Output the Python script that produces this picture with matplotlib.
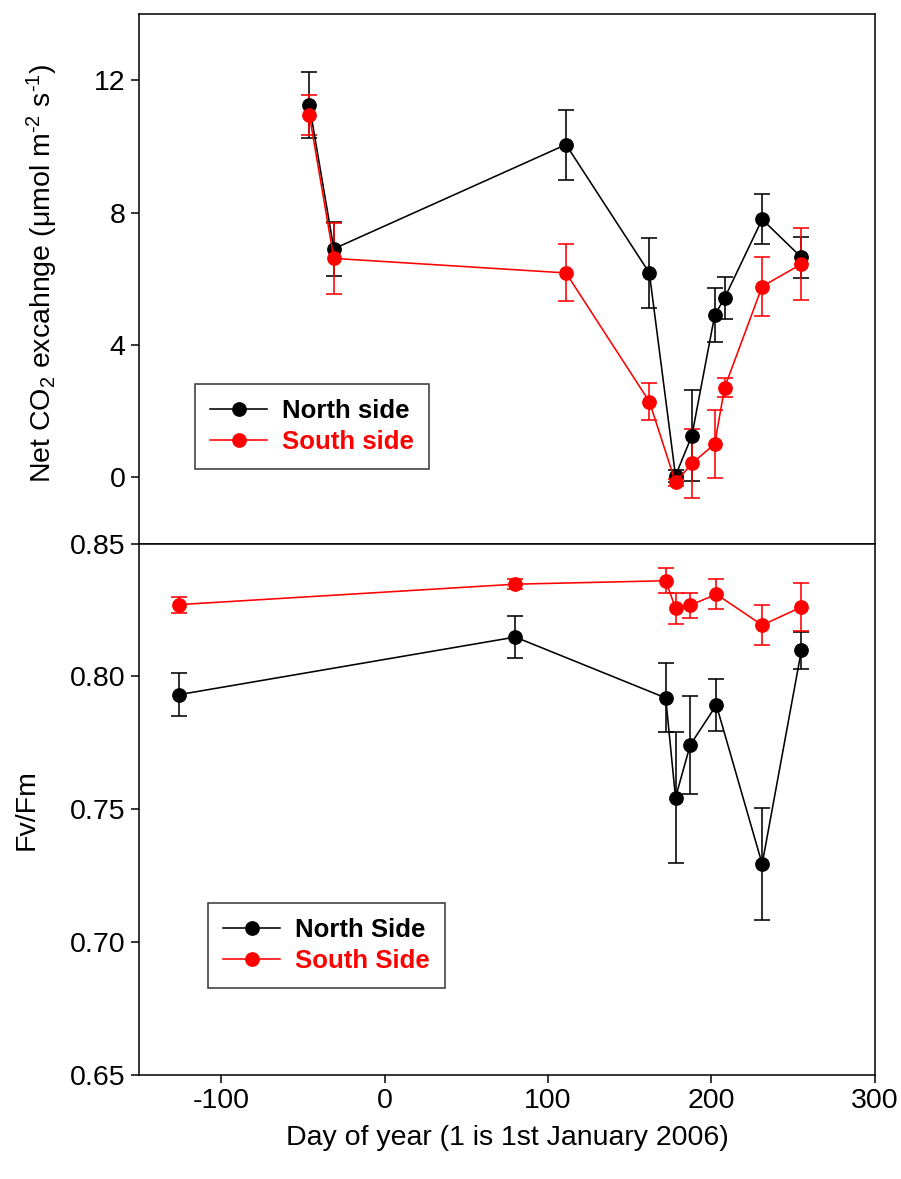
import matplotlib
matplotlib.use("Agg")
import matplotlib.pyplot as plt
from matplotlib.lines import Line2D

plt.rcParams['font.family'] = ['Liberation Sans', 'DejaVu Sans']
plt.rcParams['mathtext.fontset'] = 'custom'
plt.rcParams['mathtext.rm'] = 'Liberation Sans'
plt.rcParams['mathtext.it'] = 'Liberation Sans:italic'
plt.rcParams['mathtext.bf'] = 'Liberation Sans:bold'

# Net CO2 exchange (top panel)
days_net = [-46, -31, 111, 162, 178, 188, 202, 208, 231, 255]
north_net = [11.26, 6.91, 10.06, 6.18, 0.05, 1.26, 4.91, 5.42, 7.80, 6.65]
north_net_err = [1.00, 0.82, 1.06, 1.05, 0.18, 1.38, 0.82, 0.63, 0.76, 0.63]
south_net = [10.96, 6.62, 6.18, 2.29, -0.15, 0.42, 1.01, 2.71, 5.77, 6.45]
south_net_err = [0.60, 1.07, 0.86, 0.55, 0.10, 1.05, 1.02, 0.28, 0.90, 1.10]

# Fv/Fm (bottom panel)
days_fv = [-126, 80, 172, 178, 187, 203, 231, 255]
north_fv = [0.7931, 0.8148, 0.7919, 0.7544, 0.7742, 0.7892, 0.7294, 0.8098]
north_fv_err = [0.0080, 0.0078, 0.0130, 0.0245, 0.0184, 0.0099, 0.0210, 0.0070]
south_fv = [0.8270, 0.8347, 0.8360, 0.8257, 0.8268, 0.8309, 0.8193, 0.8261]
south_fv_err = [0.0030, 0.0020, 0.0047, 0.0058, 0.0047, 0.0057, 0.0076, 0.0092]

x_ticks = [-100, 0, 100, 200, 300]
net_ticks = [0, 4, 8, 12]
fv_ticks = [0.65, 0.70, 0.75, 0.80, 0.85]

FS = 20.5
LEG_FS = 18.5
BLACK = '#000000'
RED = '#ff0000'

fig = plt.figure(figsize=(9.01, 11.79), dpi=100)
left, width = 0.1546, 0.8165
ax_top = fig.add_axes([left, 0.5390, width, 0.4489])
ax_bot = fig.add_axes([left, 0.0882, width, 0.4508])

style = dict(marker='o', markersize=9.6, linewidth=1.15, capsize=5.5,
             elinewidth=1.15, capthick=1.15)

ax_top.errorbar(days_net, north_net, yerr=north_net_err, color=BLACK, **style)
ax_top.errorbar(days_net, south_net, yerr=south_net_err, color=RED, **style)
ax_bot.errorbar(days_fv, north_fv, yerr=north_fv_err, color=BLACK, **style)
ax_bot.errorbar(days_fv, south_fv, yerr=south_fv_err, color=RED, **style)

for ax in (ax_top, ax_bot):
    ax.set_xlim(-150, 300)
    for sp in ax.spines.values():
        sp.set_linewidth(1.1)
    ax.tick_params(axis='both', direction='out', length=6, width=1.1,
                   labelsize=FS)
    ax.tick_params(axis='y', pad=4)
    ax.tick_params(axis='x', pad=3)

ax_top.set_ylim(-2, 14)
ax_top.set_yticks(net_ticks)
ax_top.set_yticklabels([str(t) for t in net_ticks])
ax_top.set_xticks([])

ax_bot.set_ylim(0.65, 0.85)
ax_bot.set_yticks(fv_ticks)
ax_bot.set_yticklabels([f"{t:.2f}" for t in fv_ticks])
ax_bot.set_xticks(x_ticks)
ax_bot.set_xticklabels([str(t) for t in x_ticks])

ax_top.set_ylabel(r"Net CO$_2$ excahnge ($\mathregular{\mu}$mol m$^{\text{-2}}$ s$^{\text{-1}}$)",
                  fontsize=FS)
ax_top.yaxis.set_label_coords(-0.108, 0.51)
ax_bot.set_ylabel("Fv/Fm", fontsize=FS)
ax_bot.yaxis.set_label_coords(-0.135, 0.5)
ax_bot.set_xlabel("Day of year (1 is 1st January 2006)", fontsize=FS)
ax_bot.xaxis.set_label_coords(0.5, -0.094)


def add_legend(ax, labels, anchor):
    handles = [Line2D([], [], color=BLACK, marker='o', markersize=9.6, linewidth=1.15),
               Line2D([], [], color=RED, marker='o', markersize=9.6, linewidth=1.15)]
    leg = ax.legend(handles, labels, loc='upper left', bbox_to_anchor=anchor,
                    frameon=True, fancybox=False, edgecolor=BLACK,
                    prop={'weight': 'bold', 'size': LEG_FS}, handlelength=2.2,
                    handletextpad=0.58, labelspacing=0.25, borderpad=0.6,
                    borderaxespad=0.0)
    leg.get_frame().set_linewidth(1.1)
    for txt, col in zip(leg.get_texts(), [BLACK, RED]):
        txt.set_color(col)
    return leg


add_legend(ax_top, ["North side", "South side"], (0.0757, 0.3014))
add_legend(ax_bot, ["North Side", "South Side"], (0.0934, 0.3236))

fig.savefig("out.png", dpi=100)
